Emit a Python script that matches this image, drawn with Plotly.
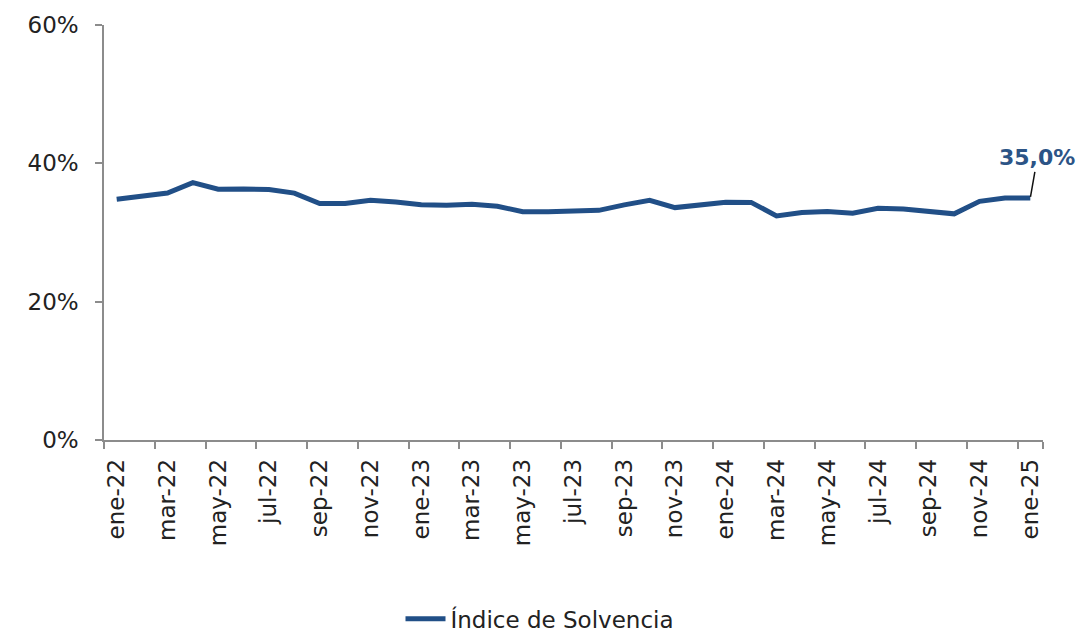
import plotly.graph_objects as go

# Monthly solvency index, Jan-2022 .. Jan-2025
months = [
    "ene-22", "feb-22", "mar-22", "abr-22", "may-22", "jun-22", "jul-22", "ago-22", "sep-22", "oct-22", "nov-22", "dic-22",
    "ene-23", "feb-23", "mar-23", "abr-23", "may-23", "jun-23", "jul-23", "ago-23", "sep-23", "oct-23", "nov-23", "dic-23",
    "ene-24", "feb-24", "mar-24", "abr-24", "may-24", "jun-24", "jul-24", "ago-24", "sep-24", "oct-24", "nov-24", "dic-24",
    "ene-25",
]
solvencia = [
    34.8, 35.3, 35.7, 37.2, 36.25, 36.3, 36.2, 35.7, 34.2, 34.2, 34.65, 34.4,
    34.0, 33.95, 34.1, 33.8, 33.0, 33.0, 33.07, 33.2, 34.0, 34.65, 33.6, 34.03,
    34.37, 34.35, 32.4, 32.9, 33.05, 32.8, 33.5, 33.4, 33.0, 32.7, 34.5, 35.0,
    35.0,
]
tick_labels = months[::2]
y_ticks = [0, 20, 40, 60]

LINE = "#214f87"
AXIS = "#8c8c8c"
FONT = "DejaVu Sans"

fig = go.Figure()
fig.add_trace(go.Scatter(
    x=months, y=solvencia, mode="lines", name="Índice de Solvencia",
    line=dict(color=LINE, width=5),
))

fig.add_annotation(
    x=months[-1], y=solvencia[-1],
    text="<b>" + f"{solvencia[-1]:.1f}".replace(".", ",") + "%</b>",
    showarrow=True, arrowhead=0, arrowwidth=1.5, arrowcolor="#111111",
    ax=7, ay=-40, standoff=1,
    font=dict(family=FONT, size=22, color="#2c5486"),
)

fig.update_layout(
    width=1080, height=638,
    margin=dict(l=104, r=37, t=25, b=198),
    paper_bgcolor="white", plot_bgcolor="white",
    font=dict(family=FONT, size=23, color="#222222"),
    showlegend=True,
    legend=dict(
        orientation="h", xref="container", yref="container",
        x=0.5, xanchor="center", y=0.03, yanchor="middle",
        font=dict(size=23), itemwidth=40,
    ),
)
fig.update_xaxes(
    type="category", range=[-0.5, len(months) - 0.5],
    tickmode="array", tickvals=tick_labels, ticktext=tick_labels,
    tickson="boundaries", ticks="outside", ticklen=7, tickcolor=AXIS, tickwidth=1.5,
    tickangle=-90, showline=True, linecolor=AXIS, linewidth=1.5,
    showgrid=False, zeroline=False, ticklabelstandoff=8,
)
fig.update_yaxes(
    range=[0, 60], tickmode="array", tickvals=y_ticks,
    ticktext=[f"{v}%" for v in y_ticks],
    ticks="outside", ticklen=7, tickcolor=AXIS, tickwidth=1.5,
    showline=True, linecolor=AXIS, linewidth=1.5,
    showgrid=False, zeroline=False, ticklabelstandoff=12,
)

fig.write_html("out.html")
